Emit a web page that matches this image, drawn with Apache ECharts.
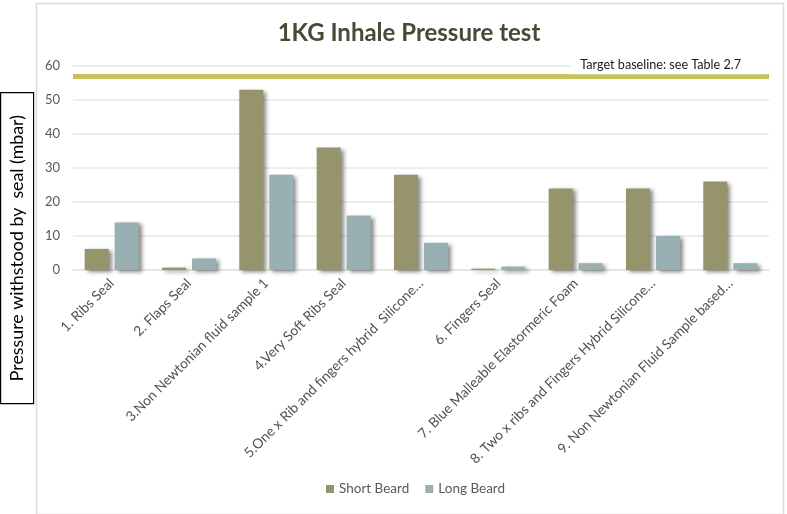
<!DOCTYPE html>
<html>
<head>
<meta charset="utf-8">
<script src="https://cdn.jsdelivr.net/npm/echarts@6/dist/echarts.min.js"></script>
<style>html,body{margin:0;padding:0;background:#fff}#c{width:787px;height:514px}</style>
</head>
<body>
<div id="c"></div>
<script>
const categories = [
  "1. Ribs Seal",
  "2. Flaps Seal",
  "3.Non Newtonian fluid sample 1",
  "4.Very Soft Ribs Seal",
  "5.One x Rib and fingers hybrid  Silicone\u2026",
  "6. Fingers Seal",
  "7. Blue Malleable Elastormeric Foam",
  "8. Two x ribs and Fingers Hybrid Silicone\u2026",
  "9. Non Newtonian Fluid Sample based\u2026"
];
const shortBeard = [6.2, 0.7, 53, 36, 28, 0.4, 24, 24, 26];
const longBeard = [14, 3.4, 28, 16, 8, 1, 2, 10, 2];
const targetBaseline = 57;
const targetLabel = "Target baseline: see Table 2.7";
const yTicks = { min: 0, max: 60, interval: 10 };

const chart = echarts.init(document.getElementById('c'), null, { renderer: 'canvas' });
const FONT = 'Lato';
const barShadow = { shadowColor: 'rgba(0,0,0,0.45)', shadowBlur: 4, shadowOffsetX: 3, shadowOffsetY: 2 };

chart.setOption({
  animation: false,
  backgroundColor: '#ffffff',
  title: {
    text: '1KG Inhale Pressure test',
    left: 404, textAlign: 'center', top: 16,
    textStyle: { fontFamily: FONT, fontWeight: 'bold', fontSize: 24, color: '#4a4838' }
  },
  legend: {
    data: ['Short Beard', 'Long Beard'],
    bottom: 13, left: 321,
    icon: 'rect', itemWidth: 8, itemHeight: 8, itemGap: 16,
    textStyle: { fontFamily: FONT, fontSize: 13.5, color: '#595959' }
  },
  grid: { left: 73, right: 18, top: 66, bottom: 244, containLabel: false },
  xAxis: {
    type: 'category', data: categories,
    axisTick: { show: false },
    axisLine: { lineStyle: { color: '#e4e4dc', width: 1.5 } },
    axisLabel: { interval: 0, rotate: 45, margin: 11, fontFamily: FONT, fontSize: 13.8, color: '#505050' }
  },
  yAxis: {
    type: 'value', min: yTicks.min, max: yTicks.max, interval: yTicks.interval,
    axisLine: { show: false }, axisTick: { show: false },
    axisLabel: { margin: 13, fontFamily: FONT, fontSize: 13, color: '#595959' },
    splitLine: { lineStyle: { color: '#e9e9e1', width: 1.5 } }
  },
  series: [
    {
      name: 'Short Beard', type: 'bar', data: shortBeard,
      barWidth: 24, barGap: '25%',
      itemStyle: Object.assign({ color: '#95946a' }, barShadow),
      markLine: {
        silent: true, symbol: 'none',
        lineStyle: { color: '#c6c35c', width: 5, type: 'solid' },
        label: {
          show: true, position: 'insideEndTop', formatter: targetLabel,
          fontFamily: FONT, fontSize: 12.6, color: '#1a1a1a',
          backgroundColor: '#ffffff', padding: [3, 26, 3, 10], distance: 2
        },
        data: [{ yAxis: targetBaseline }]
      }
    },
    {
      name: 'Long Beard', type: 'bar', data: longBeard,
      barWidth: 24,
      itemStyle: Object.assign({ color: '#98b0b1' }, barShadow)
    }
  ],
  graphic: [
    {
      type: 'rect', left: 34, top: 1, z: -10, silent: true,
      shape: { width: 747, height: 511 },
      style: { fill: 'none', stroke: '#dcdcd2', lineWidth: 1.5 }
    },
    {
      type: 'group', left: 0, top: 92, z: 10,
      children: [
        { type: 'rect', shape: { width: 33, height: 311 }, style: { fill: '#ffffff', stroke: '#000000', lineWidth: 1.2 } },
        {
          type: 'text', x: 17, y: 155.5, rotation: Math.PI / 2,
          style: { text: 'Pressure withstood by  seal (mbar)', fontFamily: FONT, fontSize: 17.8, fill: '#000000', align: 'center', verticalAlign: 'middle' }
        }
      ]
    }
  ]
});
</script>
</body>
</html>
